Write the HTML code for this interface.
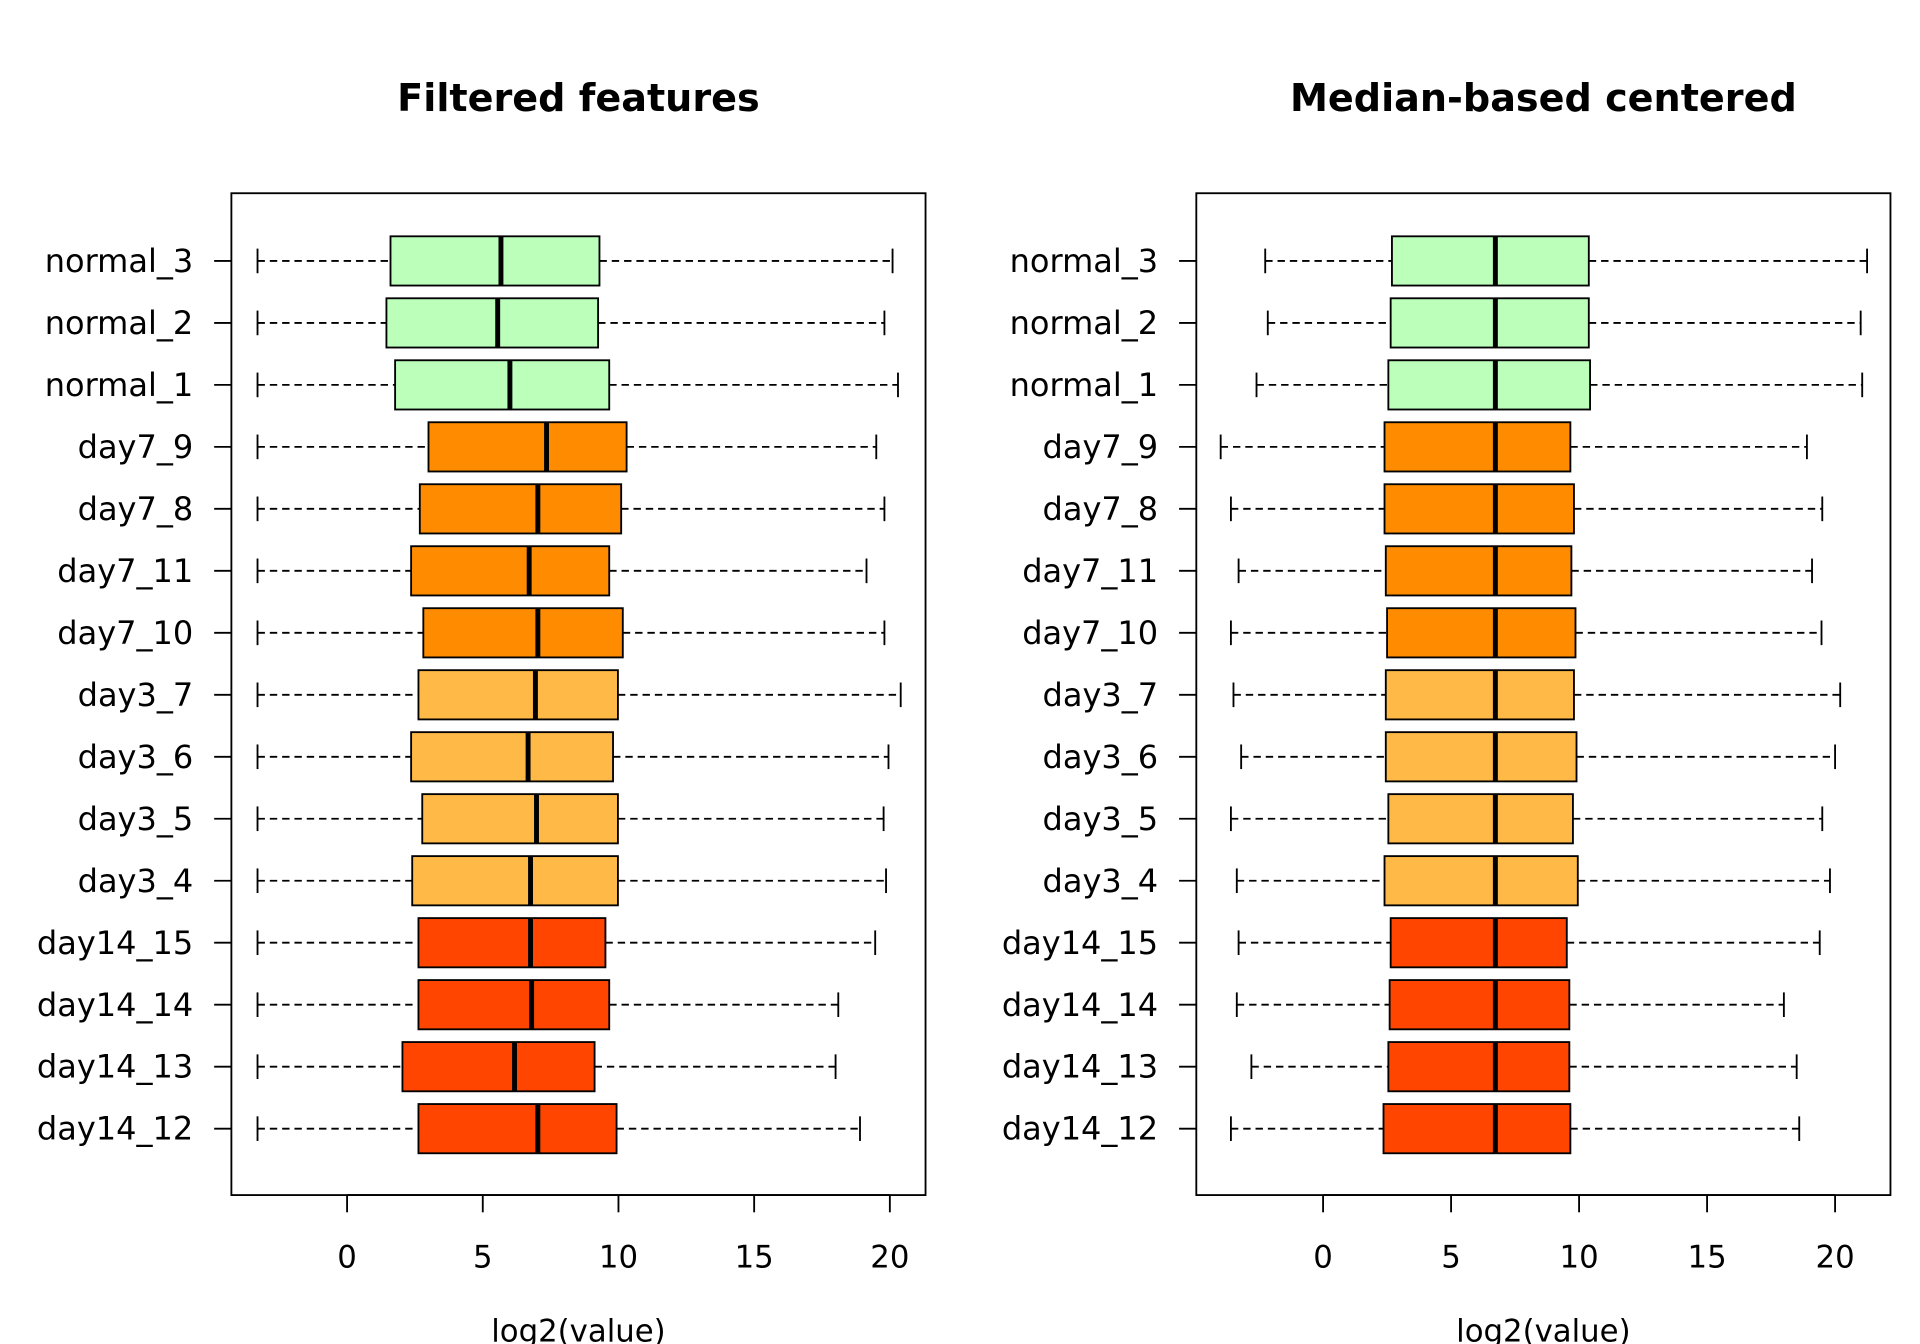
<!DOCTYPE html>
<html><head><meta charset="utf-8"><style>
html,body{margin:0;padding:0;background:#fff;}
svg{display:block;font-family:"DejaVu Sans","Liberation Sans",sans-serif;}
</style></head><body>
<svg id="chart" width="1920" height="1344" viewBox="0 0 1560 1092" xmlns="http://www.w3.org/2000/svg"></svg>
<script>
const categories = ["normal_3","normal_2","normal_1","day7_9","day7_8","day7_11","day7_10","day3_7","day3_6","day3_5","day3_4","day14_15","day14_14","day14_13","day14_12"];
const groupColors = ["#BBFFBB","#BBFFBB","#BBFFBB","#FF8C00","#FF8C00","#FF8C00","#FF8C00","#FFB946","#FFB946","#FFB946","#FFB946","#FF4500","#FF4500","#FF4500","#FF4500"];
const xTicks = [0,5,10,15,20];
// Filtered features
const f_low = [-3.3,-3.3,-3.3,-3.3,-3.3,-3.3,-3.3,-3.3,-3.3,-3.3,-3.3,-3.3,-3.3,-3.3,-3.3];
const f_q1  = [1.6,1.45,1.77,3.0,2.68,2.36,2.81,2.63,2.36,2.77,2.4,2.63,2.63,2.04,2.63];
const f_med = [5.67,5.55,6.0,7.35,7.03,6.71,7.03,6.94,6.67,6.98,6.76,6.76,6.8,6.17,7.03];
const f_q3  = [9.3,9.25,9.66,10.3,10.1,9.66,10.16,9.98,9.8,9.98,9.98,9.52,9.66,9.12,9.93];
const f_up  = [20.1,19.8,20.3,19.5,19.8,19.14,19.8,20.4,19.95,19.77,19.86,19.46,18.1,18.0,18.9];
// Median-based centered
const m_low = [-2.26,-2.16,-2.6,-4.0,-3.6,-3.3,-3.6,-3.5,-3.2,-3.6,-3.37,-3.3,-3.37,-2.8,-3.6];
const m_q1  = [2.69,2.64,2.55,2.4,2.4,2.45,2.5,2.45,2.45,2.55,2.4,2.64,2.6,2.55,2.36];
const m_med = [6.73,6.73,6.73,6.73,6.73,6.73,6.73,6.73,6.73,6.73,6.73,6.73,6.73,6.73,6.73];
const m_q3  = [10.38,10.38,10.43,9.66,9.8,9.7,9.86,9.8,9.9,9.76,9.95,9.52,9.62,9.62,9.66];
const m_up  = [21.25,21.0,21.06,18.9,19.5,19.1,19.47,20.2,20.0,19.5,19.8,19.4,18.0,18.5,18.6];

const svg = document.getElementById('chart');
const NS = "http://www.w3.org/2000/svg";
function mk(tag, attrs, parent){const e=document.createElementNS(NS,tag);for(const k in attrs)e.setAttribute(k,attrs[k]);(parent||svg).appendChild(e);return e;}

function panel(key, title, box, x0px, pxPerUnit, low, q1, med, q3, up){
  const g = mk('g',{});
  
  
  const xs = v => x0px + pxPerUnit*v;
  const ys = i => 212 + i*50.36;
  const t = mk('text',{x:(box[0]+box[2])/2,y:90,'text-anchor':'middle','font-size':31,'font-weight':'bold'},g);
  t.textContent = title;
  
  
  const fr = mk('rect',{x:box[0],y:box[1],width:box[2]-box[0],height:box[3]-box[1],fill:'none',stroke:'#000','stroke-width':1.5},g);
  
  
  const ax = mk('g',{},g);
  
  
  mk('line',{x1:xs(xTicks[0]),x2:xs(xTicks[xTicks.length-1]),y1:box[3],y2:box[3],stroke:'#000','stroke-width':1.5},ax);
  xTicks.forEach(v=>{
    mk('line',{x1:xs(v),x2:xs(v),y1:box[3],y2:box[3]+14,stroke:'#000','stroke-width':1.5},ax);
    const tl = mk('text',{x:xs(v),y:1030,'text-anchor':'middle','font-size':25},ax);
    tl.textContent = v;
    
    
  });
  const xl = mk('text',{x:(box[0]+box[2])/2,y:1090,'text-anchor':'middle','font-size':25},g);
  xl.textContent = 'log2(value)';
  
  
  categories.forEach((c,i)=>{
    const y = ys(i);
    mk('line',{x1:box[0]-14,x2:box[0],y1:y,y2:y,stroke:'#000','stroke-width':1.5},g);
    const yl = mk('text',{x:box[0]-31,y:y+9,'text-anchor':'end','font-size':26},g);
    yl.textContent = c;
    
    
    const b = mk('g',{},g);
    
    
    mk('line',{x1:xs(low[i]),x2:xs(q1[i]),y1:y,y2:y,stroke:'#000','stroke-width':1.5,'stroke-dasharray':'6,4'},b);
    mk('line',{x1:xs(q3[i]),x2:xs(up[i]),y1:y,y2:y,stroke:'#000','stroke-width':1.5,'stroke-dasharray':'6,4'},b);
    mk('line',{x1:xs(low[i]),x2:xs(low[i]),y1:y-10,y2:y+10,stroke:'#000','stroke-width':1.5},b);
    mk('line',{x1:xs(up[i]),x2:xs(up[i]),y1:y-10,y2:y+10,stroke:'#000','stroke-width':1.5},b);
    mk('rect',{x:xs(q1[i]),y:y-20,width:xs(q3[i])-xs(q1[i]),height:40,fill:groupColors[i],stroke:'#000','stroke-width':1.5},b);
    mk('line',{x1:xs(med[i]),x2:xs(med[i]),y1:y-20,y2:y+20,stroke:'#000','stroke-width':4},b);
  });
}
panel('filtered','Filtered features',[188,157,752,971],282,22.05,f_low,f_q1,f_med,f_q3,f_up);
panel('centered','Median-based centered',[972,157,1536,971],1075,20.8,m_low,m_q1,m_med,m_q3,m_up);
</script>
</body></html>
